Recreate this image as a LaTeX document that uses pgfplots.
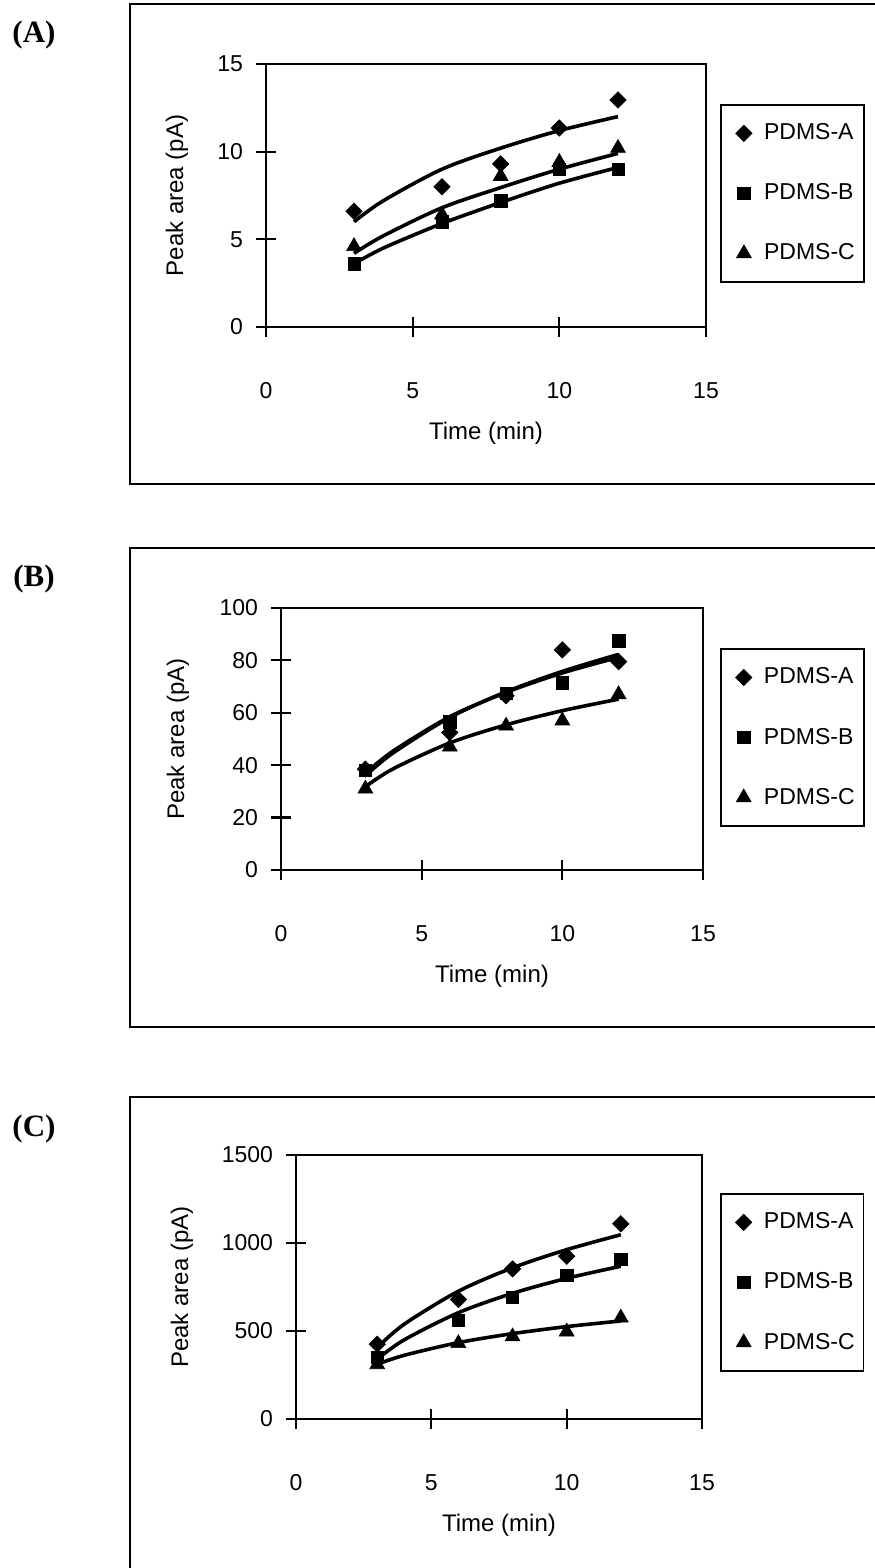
\documentclass[border=0pt]{standalone}
\usepackage{fontspec}
\setmainfont{Liberation Sans}
\newfontfamily\tnr{Liberation Serif}
\usepackage{pgfplots}
\pgfplotsset{compat=1.18}

\pgfplotsset{
  panel/.style={
    scale only axis, anchor=south west,
    xmin=0, xmax=15,
    xtick={0,5,10,15}, xticklabels={0,5,10,15},
    tick pos=left, tick align=center, major tick length=10pt,
    axis line style={line width=1.3pt, black},
    every tick/.style={line width=1.1pt, black},
    tick label style={font=\fontsize{11.5}{13}\selectfont},
    xticklabel style={anchor=center, yshift=-27pt},
    yticklabel style={xshift=-3pt},
    label style={font=\fontsize{12}{14}\selectfont},
    xlabel={Time (min)}, ylabel={Peak area (pA)},
    xlabel style={at={(axis description cs:0.5,0)}, anchor=center, yshift=-53pt},
    legend cell align=left,
    legend style={anchor=north west, draw=black, line width=0.85pt, fill=white,
      inner xsep=4.5pt, inner ysep=9.5pt, row sep=20.5pt, column sep=6pt,
      nodes={inner sep=0pt}, font=\fontsize{11.5}{13}\selectfont},
    legend image code/.code={\draw[##1] plot coordinates {(3.5pt,0pt)}; \path[draw=none, fill=none] (-3.5pt,0pt) -- (7pt,0pt);},
  },
  trend/.style={no markers, smooth, line width=1.8pt, black, forget plot},
  sA/.style={only marks, mark=square*, mark size=2.9pt, mark options={rotate=45, fill=black, draw=black, line width=0.3pt}},
  sB/.style={only marks, mark=square*, mark size=3.1pt, mark options={fill=black, draw=black, line width=0.3pt}},
  sC/.style={only marks, mark=triangle*, mark size=4.3pt, mark options={fill=black, draw=black, line width=0.3pt}},
}

\begin{document}
\begin{tikzpicture}
\useasboundingbox (0pt,0pt) rectangle (437pt,784pt);

% outer frames
\draw[line width=1pt] (65pt,542pt) rectangle (440pt,782pt);
\draw[line width=1pt] (65pt,270.5pt) rectangle (440pt,510pt);
\draw[line width=1pt] (65pt,-10pt) rectangle (440pt,235.5pt);

\node[font=\tnr\bfseries\fontsize{15.5}{18}\selectfont] at (17pt,766.5pt) {(A)};
\node[font=\tnr\bfseries\fontsize{15.5}{18}\selectfont] at (17pt,494.5pt) {(B)};
\node[font=\tnr\bfseries\fontsize{15.5}{18}\selectfont] at (17pt,219.5pt) {(C)};

% ---------------- Panel A
\begin{axis}[panel, at={(133pt,620.5pt)}, width=220pt, height=131.5pt,
  ymin=0, ymax=15, ytick={0,5,10,15}, yticklabels={0,5,10,15},
  ylabel style={at={(axis description cs:-0.2023,0.5)}, anchor=center},
  legend style={at={(axis description cs:1.032,0.848)}}]
\addplot[sA] coordinates {(3,6.6) (6,8.0) (8,9.3) (10,11.35) (12,12.95)};
\addlegendentry{PDMS-A}
\addplot[sB] coordinates {(3,3.6) (6,6.0) (8,7.2) (10,9.0) (12,9.0)};
\addlegendentry{PDMS-B}
\addplot[sC] coordinates {(3,4.6) (6,6.4) (8,8.6) (10,9.4) (12,10.2)};
\addlegendentry{PDMS-C}
\addplot[trend] coordinates {(3,6.0) (4,7.2) (6,9.0) (8,10.2) (10,11.2) (12,12.0)};
\addplot[trend] coordinates {(3,3.6) (4,4.5) (6,5.9) (8,7.1) (10,8.2) (12,9.1)};
\addplot[trend] coordinates {(3,4.2) (4,5.2) (6,6.8) (8,7.95) (10,9.0) (12,9.9)};
\end{axis}

% ---------------- Panel B
\begin{axis}[panel, at={(140.5pt,349pt)}, width=211pt, height=131pt,
  ymin=0, ymax=100, ytick={0,20,40,60,80,100}, yticklabels={0,20,40,60,80,100},
  ylabel style={at={(axis description cs:-0.244,0.5)}, anchor=center},
  legend style={at={(axis description cs:1.040,0.847)}}]
\addplot[sA] coordinates {(3,38.5) (6,52.5) (8,66.5) (10,84) (12,79.5)};
\addlegendentry{PDMS-A}
\addplot[sB] coordinates {(3,38) (6,56.5) (8,67.5) (10,71.5) (12,87.5)};
\addlegendentry{PDMS-B}
\addplot[sC] coordinates {(3,31) (6,47) (8,55) (10,57) (12,67)};
\addlegendentry{PDMS-C}
\addplot[trend] coordinates {(3,37) (4,45.5) (6,58.5) (8,67.8) (10,75.2) (12,81.2)};
\addplot[trend] coordinates {(3,36) (4,44.8) (6,58.2) (8,68.0) (10,75.8) (12,82.3)};
\addplot[trend] coordinates {(3,31.8) (4,38.7) (6,48.5) (8,55.4) (10,60.8) (12,65.2)};
\end{axis}

% ---------------- Panel C
\begin{axis}[panel, at={(148pt,74.5pt)}, width=203pt, height=132pt,
  ymin=0, ymax=1500, ytick={0,500,1000,1500}, yticklabels={0,500,1000,1500},
  ylabel style={at={(axis description cs:-0.281,0.5)}, anchor=center},
  legend style={at={(axis description cs:1.044,0.856)}}]
\addplot[sA] coordinates {(3,425) (6,679) (8,853) (10,925) (12,1109)};
\addlegendentry{PDMS-A}
\addplot[sB] coordinates {(3,350) (6,562) (8,690) (10,815) (12,906)};
\addlegendentry{PDMS-B}
\addplot[sC] coordinates {(3,310) (6,430) (8,468) (10,496) (12,575)};
\addlegendentry{PDMS-C}
\addplot[trend] coordinates {(3,406) (4,539) (6,726) (8,859) (10,962) (12,1047)};
\addplot[trend] coordinates {(3,340) (4,450) (6,604) (8,714) (10,799) (12,868)};
\addplot[trend] coordinates {(3,311) (4,362) (6,434) (8,485) (10,525) (12,557)};
\end{axis}
\end{tikzpicture}
\end{document}
